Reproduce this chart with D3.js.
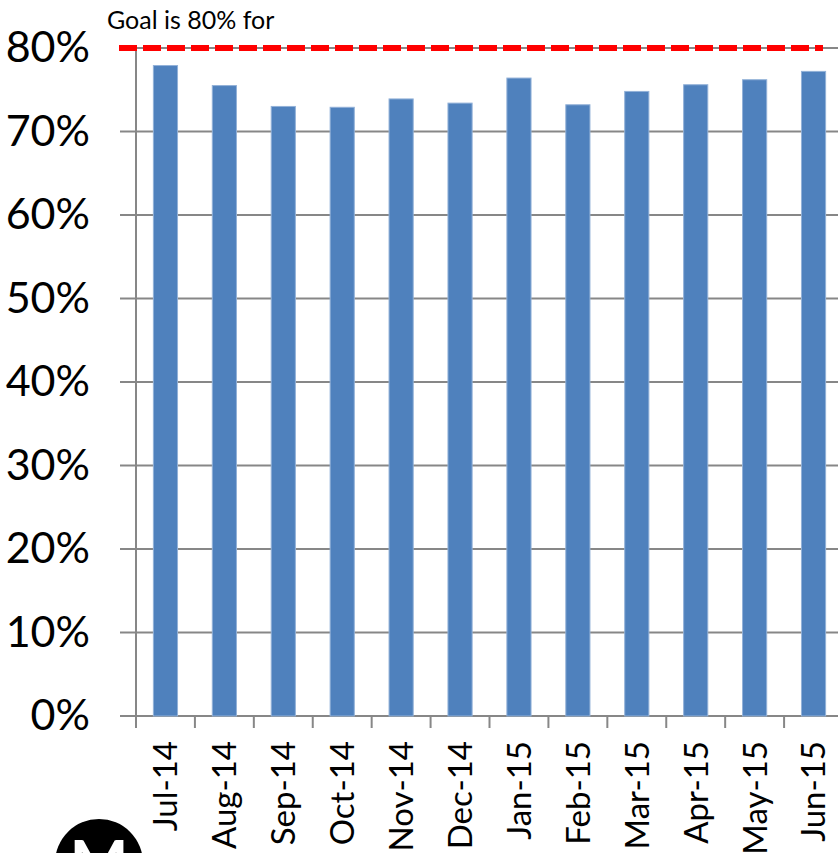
<!DOCTYPE html>
<html>
<head>
<meta charset="utf-8">
<script src="https://cdn.jsdelivr.net/npm/d3@7"></script>
<style>
  body { margin: 0; background: #fff; }
  svg { display: block; font-family: Lato, "Open Sans", sans-serif; }
</style>
</head>
<body>
<div id="vis"></div>
<script>

// Data ----------------------------------------------------------------------

var months = ["Jul-14", "Aug-14", "Sep-14", "Oct-14", "Nov-14", "Dec-14",
              "Jan-15", "Feb-15", "Mar-15", "Apr-15", "May-15", "Jun-15"];
var values = [0.779, 0.755, 0.730, 0.729, 0.739, 0.734,
              0.764, 0.732, 0.748, 0.756, 0.762, 0.772];
var yTicks = [0, 0.1, 0.2, 0.3, 0.4, 0.5, 0.6, 0.7, 0.8];
var goal = 0.8;
var goalLabel = "Goal is 80% for";

// Setup ---------------------------------------------------------------------

var W = 838, H = 853;
var plotLeft = 136, plotRight = 843, plotTop = 48, plotBottom = 716;

var svg = d3.select("#vis").append("svg")
  .attr("width", W)
  .attr("height", H);

// Scales
var x = d3.scaleBand()
  .domain(months)
  .range([plotLeft, plotRight])
  .paddingInner(0.59)
  .paddingOuter(0.295);

var y = d3.scaleLinear()
  .domain([0, 0.8])
  .range([plotBottom, plotTop]);

// Gridlines -----------------------------------------------------------------

svg.append("g")
  .selectAll("line")
  .data(yTicks)
  .enter()
  .append("line")
    .attr("x1", plotLeft - 16)
    .attr("x2", plotRight)
    .attr("y1", function(d) { return y(d); })
    .attr("y2", function(d) { return y(d); })
    .attr("stroke", "#878787")
    .attr("stroke-width", 2);

// Y axis (labels only, lines drawn separately)
var yAxis = d3.axisLeft(y)
  .tickValues(yTicks)
  .tickFormat(d3.format(".0%"))
  .tickSize(0)
  .tickPadding(46);

svg.append("g")
  .attr("transform", "translate(" + plotLeft + ",0)")
  .call(yAxis)
  .call(function(g) { g.select(".domain").remove(); })
  .selectAll("text")
    .attr("font-family", "Lato, sans-serif")
    .attr("font-size", 43)
    .attr("fill", "#000");

svg.append("line")
  .attr("x1", plotLeft).attr("x2", plotLeft)
  .attr("y1", plotTop).attr("y2", plotBottom + 12)
  .attr("stroke", "#878787")
  .attr("stroke-width", 2);

// X axis ticks at band boundaries
var step = x.step();
svg.append("g")
  .selectAll("line")
  .data(d3.range(months.length + 1))
  .enter()
  .append("line")
    .attr("x1", function(i) { return plotLeft + i * step; })
    .attr("x2", function(i) { return plotLeft + i * step; })
    .attr("y1", plotBottom)
    .attr("y2", plotBottom + 12)
    .attr("stroke", "#878787")
    .attr("stroke-width", 2);

// Bars ----------------------------------------------------------------------

svg.append("g")
  .selectAll("rect")
  .data(values)
  .enter()
  .append("rect")
    .attr("x", function(d, i) { return x(months[i]); })
    .attr("y", function(d) { return y(d); })
    .attr("width", x.bandwidth())
    .attr("height", function(d) { return y(0) - y(d); })
    .attr("fill", "#4f81bd")
    .attr("stroke", "#92b1d8")
    .attr("stroke-width", 1);

// X labels
svg.append("g")
  .selectAll("text")
  .data(months)
  .enter()
  .append("text")
    .attr("transform", function(d) {
      return "translate(" + (x(d) + x.bandwidth() / 2) + "," + 741 + ") rotate(-90)";
    })
    .attr("text-anchor", "end")
    .attr("dy", "0.36em")
    .attr("font-size", 33)
    .attr("fill", "#000")
    .text(function(d) { return d; });

// Goal line -----------------------------------------------------------------

svg.append("line")
  .attr("x1", 119)
  .attr("x2", 823)
  .attr("y1", y(goal))
  .attr("y2", y(goal))
  .attr("stroke", "#ff0000")
  .attr("stroke-width", 6)
  .attr("stroke-dasharray", "18,6");

svg.append("text")
  .attr("x", 107)
  .attr("y", 29)
  .attr("font-size", 25)
  .attr("fill", "#000")
  .text(goalLabel);

// Logo ----------------------------------------------------------------------

svg.append("circle")
  .attr("cx", 99)
  .attr("cy", 863)
  .attr("r", 44)
  .attr("fill", "#000");

svg.append("text")
  .attr("x", 99)
  .attr("y", 884)
  .attr("text-anchor", "middle")
  .attr("font-size", 62)
  .attr("font-weight", "bold")
  .attr("fill", "#fff")
  .text("M");

</script>
</body>
</html>
